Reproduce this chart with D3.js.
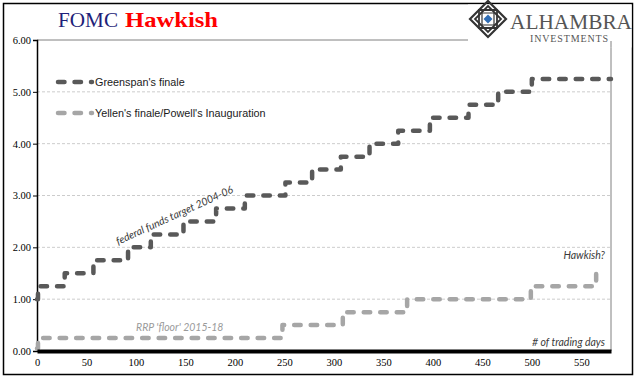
<!DOCTYPE html>
<html><head><meta charset="utf-8">
<script src="https://cdn.jsdelivr.net/npm/d3@7"></script>
<style>body{margin:0;background:#fff}svg{display:block}</style>
</head><body>
<script>
// ---- data ----
const greenspanDays  = [0, 1, 28, 57, 92, 115, 148, 181, 210, 251, 278, 307, 336, 365, 397, 436, 466, 500, 580];
const greenspanRates = [1.00, 1.25, 1.50, 1.75, 2.00, 2.25, 2.50, 2.75, 3.00, 3.25, 3.50, 3.75, 4.00, 4.25, 4.50, 4.75, 5.00, 5.25, 5.25];
const yellenDays  = [0, 1, 248, 309, 374, 499, 565];
const yellenRates = [0.05, 0.25, 0.50, 0.75, 1.00, 1.25, 1.50];
const yTicks = [0, 1, 2, 3, 4, 5, 6];
const xTicks = [0, 50, 100, 150, 200, 250, 300, 350, 400, 450, 500, 550];
const seriesNames = ["Greenspan's finale", "Yellen's finale/Powell's Inauguration"];
const seriesColors = ["#595959", "#A6A6A6"];

const W = 641, H = 381;
const svg = d3.select("body").append("svg").attr("width", W).attr("height", H);

const x = d3.scaleLinear().domain([0, 580]).range([37, 611]);
const y = d3.scaleLinear().domain([0, 6]).range([351, 40]);

// outer border
svg.append("rect").attr("x", 3.5).attr("y", 3.5).attr("width", 629).attr("height", 371)
  .attr("fill", "#fff").attr("stroke", "#000").attr("stroke-width", 1.5);

// gridlines
svg.append("g").selectAll("line").data(yTicks.filter(d => d > 0 && d < 6)).join("line")
  .attr("x1", x(0)).attr("x2", x(580)).attr("y1", d => y(d)).attr("y2", d => y(d))
  .attr("stroke", "#BFBFBF").attr("stroke-width", 0.8).attr("stroke-dasharray", "3,2");
// plot area top and right border
svg.append("line").attr("x1", x(0)).attr("x2", x(580)).attr("y1", y(6)).attr("y2", y(6))
  .attr("stroke", "#808080").attr("stroke-width", 1);
svg.append("line").attr("x1", x(580)).attr("x2", x(580)).attr("y1", y(6)).attr("y2", y(0))
  .attr("stroke", "#808080").attr("stroke-width", 1);

// y axis
const yAxis = d3.axisLeft(y).tickValues(yTicks).tickFormat(d3.format(".2f")).tickSize(4).tickPadding(2);
const gy = svg.append("g").attr("transform", `translate(${x(0)},0)`).call(yAxis);
gy.select(".domain").attr("stroke", "#000").attr("stroke-width", 1.5);
gy.selectAll(".tick line").attr("stroke", "#000");
gy.selectAll("text").attr("font-family", "'Liberation Serif', serif").attr("font-size", 10.5).attr("fill", "#000");

// series
const line = d3.line().x(d => x(d[0])).y(d => y(d[1])).curve(d3.curveStepAfter);
const gData = greenspanDays.map((d, i) => [d, greenspanRates[i]]);
const yData = yellenDays.map((d, i) => [d, yellenRates[i]]);
[gData, yData].forEach((data, i) => {
  svg.append("path").datum(data).attr("d", line)
    .attr("fill", "none").attr("stroke", seriesColors[i]).attr("stroke-width", 4.5)
    .attr("stroke-linecap", "round").attr("stroke-linejoin", "round")
    .attr("stroke-dasharray", "6.5,10");
});

// x axis
const xAxis = d3.axisBottom(x).tickValues(xTicks).tickSize(0).tickPadding(8);
const gx = svg.append("g").attr("transform", `translate(0,${y(0)})`).call(xAxis);
gx.select(".domain").attr("stroke", "#000").attr("stroke-width", 4);
gx.selectAll("text").attr("font-family", "'Liberation Serif', serif").attr("font-size", 10.5).attr("fill", "#000");

// legend
seriesNames.forEach((name, i) => {
  const ly = [82, 113][i];
  svg.append("line").attr("x1", 58).attr("x2", 92).attr("y1", ly).attr("y2", ly)
    .attr("stroke", seriesColors[i]).attr("stroke-width", 4.5).attr("stroke-linecap", "round")
    .attr("stroke-dasharray", "6.5,10");
  svg.append("text").attr("x", 95).attr("y", ly + 4).text(name)
    .attr("font-family", "'Liberation Sans', Arial, sans-serif").attr("font-size", 10.8).attr("fill", "#1a1a1a");
});

// annotations
const ann = (t, xx, yy, col, anchor, rot) => svg.append("text").attr("x", xx).attr("y", yy).text(t)
  .attr("font-family", "Lato, 'Open Sans', sans-serif").attr("font-style", "italic").attr("font-size", 10.5)
  .attr("fill", col).attr("text-anchor", anchor || "start")
  .attr("transform", rot ? `rotate(${rot},${xx},${yy})` : null);
ann("federal funds target 2004-06", 118, 245, "#3a3a3a", "start", -24.5);
ann("RRP 'floor' 2015-18", 136, 331, "#9a9a9a");
ann("Hawkish?", 605, 259, "#3a3a3a", "end");
ann("# of trading days", 605, 346, "#3a3a3a", "end");

// title
svg.append("text").attr("x", 58).attr("y", 27).text("FOMC")
  .attr("font-family", "'Liberation Serif', 'Times New Roman', serif").attr("font-size", 21)
  .attr("fill", "#1F1F7A").attr("textLength", 60).attr("lengthAdjust", "spacingAndGlyphs");
svg.append("text").attr("x", 125).attr("y", 27).text("Hawkish")
  .attr("font-family", "'Liberation Serif', 'Times New Roman', serif").attr("font-size", 22)
  .attr("font-weight", "bold").attr("fill", "#FF0000")
  .attr("textLength", 93).attr("lengthAdjust", "spacingAndGlyphs");

// logo
const logo = svg.append("g");
logo.append("rect").attr("x", 468).attr("y", 4.5).attr("width", 163.5).attr("height", 43).attr("fill", "#fff");
const cx = 488, cy = 19, r = 18;
const dia = (s) => `M${cx},${cy - s} L${cx + s},${cy} L${cx},${cy + s} L${cx - s},${cy} Z`;
const sq = (s) => `M${cx - s},${cy - s} L${cx + s},${cy - s} L${cx + s},${cy + s} L${cx - s},${cy + s} Z`;
logo.append("path").attr("d", dia(r)).attr("fill", "none").attr("stroke", "#333").attr("stroke-width", 2.2);
logo.append("path").attr("d", dia(r - 5)).attr("fill", "none").attr("stroke", "#333").attr("stroke-width", 1.8);
logo.append("path").attr("d", sq(9)).attr("fill", "none").attr("stroke", "#333").attr("stroke-width", 1.8);
logo.append("path").attr("d", sq(6)).attr("fill", "none").attr("stroke", "#333").attr("stroke-width", 1.2);
logo.append("path").attr("d", dia(4.5)).attr("fill", "#2F6DB5");
logo.append("text").attr("x", 510).attr("y", 29).text("ALHAMBRA")
  .attr("font-family", "'Liberation Serif', serif").attr("font-size", 22).attr("fill", "#555")
  .attr("textLength", 122).attr("lengthAdjust", "spacingAndGlyphs");
logo.append("text").attr("x", 530).attr("y", 42).text("INVESTMENTS")
  .attr("font-family", "'Liberation Serif', serif").attr("font-size", 10).attr("fill", "#555")
  .attr("textLength", 78).attr("lengthAdjust", "spacing");
logo.append("line").attr("x1", x(580)).attr("x2", x(580)).attr("y1", 47.5).attr("y2", y(6) + 1).attr("stroke", "#808080");
</script>
</body></html>
